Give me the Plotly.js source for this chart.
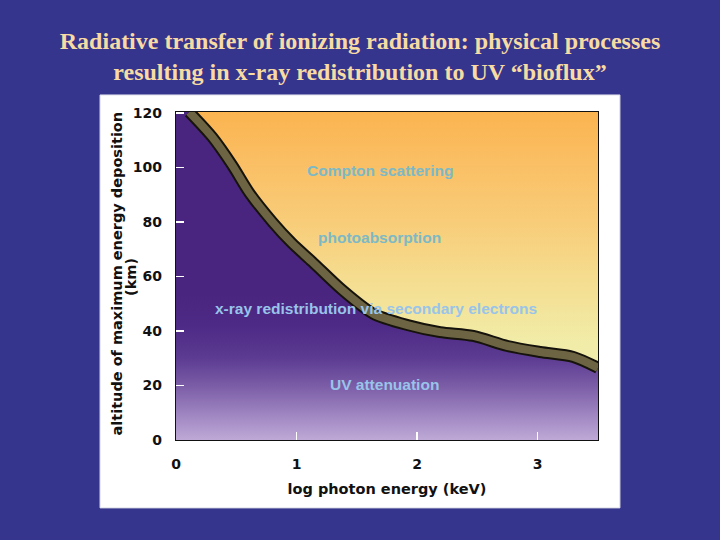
<!DOCTYPE html>
<html>
<head>
<meta charset="utf-8">
<script src="https://cdn.plot.ly/plotly-3.0.1.min.js"></script>
<style>html,body{margin:0;padding:0;background:#35358e;}#chart{width:720px;height:540px;}</style>
</head>
<body>
<div id="chart"></div>
<script>
// log photon energy (keV) along the boundary curve
const logEnergy = [0.11, 0.30, 0.465, 0.61, 0.80, 0.96, 1.13, 1.38, 1.635, 1.92, 2.19, 2.465, 2.75, 3.02, 3.295, 3.5];
// altitude of maximum energy deposition (km)
const altitude  = [120.4, 111.2, 100.9, 90.6, 80.0, 72.3, 65.4, 55.0, 46.4, 42.2, 39.6, 38.2, 34.5, 32.3, 30.5, 26.5];
const xTicks = [0, 1, 2, 3];
const yTicks = [0, 20, 40, 60, 80, 100, 120];
const regionLabels = ["Compton scattering", "photoabsorption", "x-ray redistribution via secondary electrons", "UV attenuation"];
const regionX = [1.69, 1.69, 1.66, 1.73];
const regionY = [99.1, 74.5, 48.1, 20.2];
const yTitleLines = ["altitude of maximum energy deposition", "(km)"];

const xMax = 3.5, yMax = 120.4;

const lower = {
  x: [0].concat(logEnergy), y: [yMax].concat(altitude),
  mode: 'lines', line: {width: 0}, fill: 'tozeroy', fillcolor: '#4a2580',
  fillgradient: {type: 'vertical', start: 0, stop: yMax,
    colorscale: [[0, '#bea9d6'], [0.083, '#9d83c0'], [0.166, '#7a5ca6'], [0.25, '#5c3b92'], [0.35, '#4d2a85'], [0.45, '#4a2580'], [1, '#4a2580']]},
  hoverinfo: 'skip', showlegend: false
};
const upper = {
  x: logEnergy.concat([xMax]), y: altitude.concat([yMax]),
  mode: 'lines', line: {width: 0}, fill: 'toself', fillcolor: '#f6d88a',
  fillgradient: {type: 'vertical', start: 0, stop: yMax,
    colorscale: [[0, '#f0f0b0'], [0.3, '#f1eca8'], [0.5, '#f5dc8e'], [0.67, '#f8cc78'], [0.83, '#fac066'], [1, '#fbb450']]},
  hoverinfo: 'skip', showlegend: false
};
const bandOuter = {
  x: logEnergy, y: altitude, mode: 'lines',
  line: {color: '#16130c', width: 12, shape: 'spline', smoothing: 0.8},
  hoverinfo: 'skip', showlegend: false
};
const bandInner = {
  x: logEnergy, y: altitude, mode: 'lines',
  line: {color: '#6d6443', width: 8, shape: 'spline', smoothing: 0.8},
  hoverinfo: 'skip', showlegend: false
};

const annotations = regionLabels.map((t, i) => ({
  x: regionX[i], y: regionY[i], xref: 'x', yref: 'y', text: '<b>' + t + '</b>',
  showarrow: false, font: {family: 'Liberation Sans, Arial, sans-serif', size: 15.5, color: i < 2 ? '#7cb9c6' : '#98c4ea'}
}));
const yTitleX = [-0.1398, -0.1066];
const yTitleY = [0.5076, 0.4970];
yTitleLines.forEach((t, i) => annotations.push({
  x: yTitleX[i], y: yTitleY[i], xref: 'paper', yref: 'paper', text: '<b>' + t + '</b>', textangle: -90,
  showarrow: false, xanchor: 'center', yanchor: 'middle',
  font: {family: 'DejaVu Sans, Verdana, sans-serif', size: 14.5, color: '#111111'}
}));

const layout = {
  width: 720, height: 540,
  paper_bgcolor: '#35358e', plot_bgcolor: '#ffffff',
  margin: {l: 176, r: 122, t: 112, b: 100},
  title: {text: 'Radiative transfer of ionizing radiation: physical processes<br>resulting in x-ray redistribution to UV \u201cbioflux\u201d',
    font: {family: 'Liberation Serif, Times New Roman, serif', size: 24, color: '#f8dba2', weight: 'bold'},
    x: 0.5, xref: 'container', y: 0.9100, yref: 'container', yanchor: 'middle'},
  xaxis: {range: [0, xMax], tickvals: xTicks, ticks: 'inside', ticklen: 8, tickwidth: 1.5, tickcolor: '#ffffff',
    showline: true, mirror: true, linecolor: '#111111', linewidth: 1.2, showgrid: false, zeroline: false,
    ticklabelstandoff: 11,
    tickfont: {family: 'DejaVu Sans, Verdana, sans-serif', size: 14, color: '#111111', weight: 'bold'},
    title: {text: 'log photon energy (keV)', standoff: 12, font: {family: 'DejaVu Sans, Verdana, sans-serif', size: 14.5, color: '#111111', weight: 'bold'}}},
  yaxis: {range: [0, yMax], tickvals: yTicks, ticks: 'inside', ticklen: 8, tickwidth: 1.5, tickcolor: '#ffffff',
    showline: true, mirror: true, linecolor: '#111111', linewidth: 1.2, showgrid: false, zeroline: false,
    ticklabelstandoff: 10,
    tickfont: {family: 'DejaVu Sans, Verdana, sans-serif', size: 14, color: '#111111', weight: 'bold'}},
  shapes: [{type: 'rect', xref: 'paper', yref: 'paper', x0: -0.180, x1: 1.052, y0: -0.207, y1: 1.052,
    fillcolor: '#ffffff', line: {color: '#dcdce8', width: 1}, layer: 'below'}],
  annotations: annotations
};

Plotly.newPlot('chart', [lower, upper, bandOuter, bandInner], layout, {displayModeBar: false, staticPlot: true});
</script>
</body>
</html>
